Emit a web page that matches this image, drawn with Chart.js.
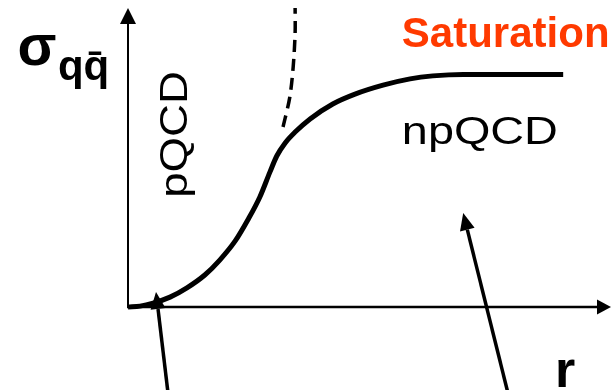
<!DOCTYPE html>
<html>
<head>
<meta charset="utf-8">
<title>Dipole cross section</title>
<script src="https://cdn.jsdelivr.net/npm/chart.js@4.4.1/dist/chart.umd.min.js"></script>
<style>
  html, body { margin: 0; padding: 0; background: #fff; }
  #wrap { width: 611px; height: 390px; position: relative; }
</style>
</head>
<body>
<div id="wrap"><canvas id="sigma_chart"></canvas></div>
<script>
'use strict';

// dipole cross section vs dipole size r (arbitrary units)
var curveR     = [0, 0.25, 0.52, 0.87, 1.22, 1.59, 1.90, 2.22, 2.48, 2.73, 2.94, 3.08, 3.25, 3.46, 3.77, 4.24, 4.70, 5.28, 5.84, 6.31, 6.94, 9.01];
var curveSigma = [0, 0.03, 0.13, 0.33, 0.64, 1.07, 1.57, 2.21, 2.91, 3.68, 4.52, 5.05, 5.48, 5.85, 6.29, 6.79, 7.12, 7.42, 7.63, 7.73, 7.78, 7.78];

// perturbative growth without saturation
var pqcdR     = [3.21, 3.35, 3.42, 3.46, 3.46];
var pqcdSigma = [6.02, 7.02, 8.03, 9.16, 10.0];

var rMax = 10;
var sigmaMax = 10;

// labels, placed in data units
var labels = [
  { text: 'Saturation', r: 5.67, s: 8.70, font: 'bold 42px "Liberation Sans", Arial, sans-serif', color: '#ff3a00' },
  { text: 'npQCD', r: 5.67, s: 5.45, font: '39px "Liberation Sans", Arial, sans-serif', color: '#000', stretch: 1.2 },
  { text: 'pQCD', r: 1.22, s: 3.65, font: '38px "Liberation Sans", Arial, sans-serif', color: '#000', stretch: 1.2, rotate: true },
  { text: 'r', r: 8.84, s: -2.68, font: 'bold 52px "Liberation Sans", Arial, sans-serif', color: '#000' },
  { text: '\u03c3', r: -2.29, s: 8.09, font: 'bold 57px "Liberation Sans", Arial, sans-serif', color: '#000' },
  { text: 'qq\u0304', r: -1.45, s: 7.59, font: 'bold 42px "Liberation Sans", Arial, sans-serif', color: '#000' }
];

// pointer arrows from below the axis: [fromR, fromSigma, toR, toSigma]
var pointers = [
  [0.83, -2.9, 0.58, 0.50],
  [7.87, -2.9, 6.94, 3.14]
];

function toPoints(xs, ys) {
  var pts = [];
  for (var i = 0; i < xs.length; i++) {
    pts.push({ x: xs[i], y: ys[i] });
  }
  return pts;
}

function drawArrow(ctx, x1, y1, x2, y2, lw, headLen, headHalf) {
  var ang = Math.atan2(y2 - y1, x2 - x1);
  var bx = x2 - Math.cos(ang) * headLen;
  var by = y2 - Math.sin(ang) * headLen;
  ctx.lineWidth = lw;
  ctx.beginPath();
  ctx.moveTo(x1, y1);
  ctx.lineTo(bx, by);
  ctx.stroke();
  ctx.beginPath();
  ctx.moveTo(x2, y2);
  ctx.lineTo(bx + Math.sin(ang) * headHalf, by - Math.cos(ang) * headHalf);
  ctx.lineTo(bx - Math.sin(ang) * headHalf, by + Math.cos(ang) * headHalf);
  ctx.closePath();
  ctx.fill();
}

var sketchPlugin = {
  id: 'sketch',
  beforeDatasetsDraw: function(chart) {
    var ctx = chart.ctx;
    var xs = chart.scales.x, ys = chart.scales.y;
    var x0 = xs.getPixelForValue(0), y0 = ys.getPixelForValue(0);
    ctx.save();
    ctx.strokeStyle = '#000';
    ctx.fillStyle = '#000';
    // axes with arrow heads
    drawArrow(ctx, x0, y0 + 1, x0, ys.getPixelForValue(sigmaMax), 2, 16, 8);
    drawArrow(ctx, x0 - 1, y0, xs.getPixelForValue(rMax), y0, 2.5, 14, 7.5);
    ctx.restore();
  },
  afterDatasetsDraw: function(chart) {
    var ctx = chart.ctx;
    var xs = chart.scales.x, ys = chart.scales.y;
    ctx.save();
    ctx.strokeStyle = '#000';
    ctx.fillStyle = '#000';
    pointers.forEach(function(p) {
      drawArrow(ctx, xs.getPixelForValue(p[0]), ys.getPixelForValue(p[1]),
        xs.getPixelForValue(p[2]), ys.getPixelForValue(p[3]), 3.5, 17, 7.5);
    });
    labels.forEach(function(l) {
      ctx.save();
      ctx.font = l.font;
      ctx.fillStyle = l.color;
      ctx.textAlign = 'left';
      ctx.textBaseline = 'alphabetic';
      ctx.translate(xs.getPixelForValue(l.r), ys.getPixelForValue(l.s));
      if (l.rotate) ctx.rotate(-Math.PI / 2);
      if (l.stretch) ctx.scale(l.stretch, 1);
      ctx.fillText(l.text, 0, 0);
      ctx.restore();
    });
    ctx.restore();
  }
};

var ctx = document.getElementById('sigma_chart').getContext('2d');
var sigmaChart = new Chart(ctx, {
  type: 'scatter',
  data: {
    datasets: [
      {
        label: 'sigma',
        data: toPoints(curveR, curveSigma),
        showLine: true,
        borderColor: '#000',
        borderWidth: 5,
        pointRadius: 0,
        cubicInterpolationMode: 'monotone',
        clip: false
      },
      {
        label: 'pQCD',
        data: toPoints(pqcdR, pqcdSigma),
        showLine: true,
        borderColor: '#000',
        borderWidth: 3.5,
        borderDash: [12, 7],
        pointRadius: 0,
        tension: 0.3,
        clip: false
      }
    ]
  },
  options: {
    responsive: true,
    maintainAspectRatio: false,
    animation: false,
    layout: { padding: { left: 128, right: 0, top: 8, bottom: 83 } },
    scales: {
      x: { type: 'linear', min: 0, max: rMax, display: false },
      y: { type: 'linear', min: 0, max: sigmaMax, display: false }
    },
    plugins: {
      legend: { display: false },
      tooltip: { enabled: false }
    }
  },
  plugins: [sketchPlugin]
});
</script>
</body>
</html>
